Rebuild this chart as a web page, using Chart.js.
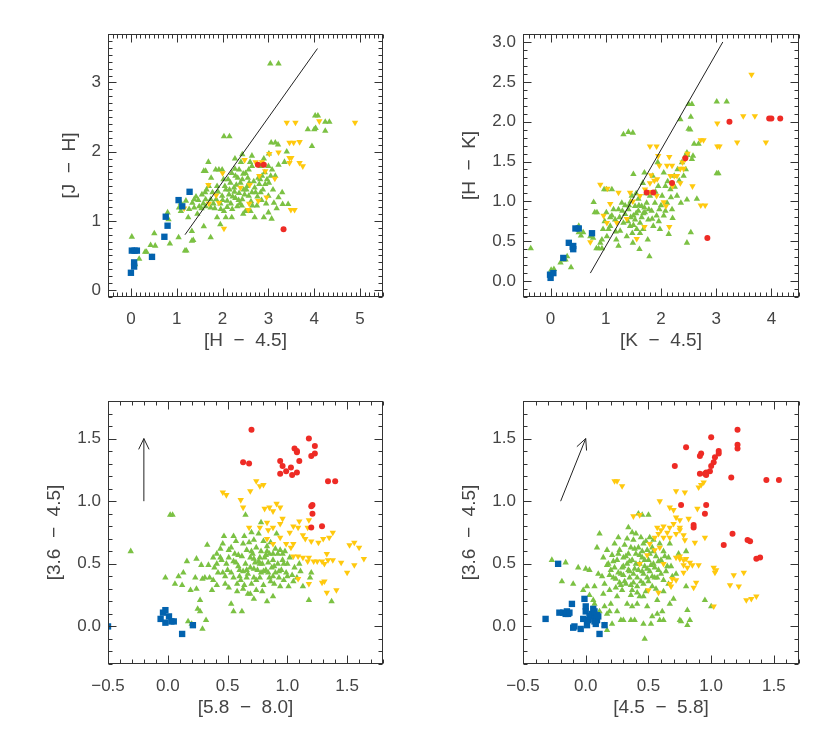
<!DOCTYPE html>
<html>
<head>
<meta charset="utf-8">
<script src="https://cdn.jsdelivr.net/npm/chart.js@4.4.1/dist/chart.umd.min.js"></script>
<style>
  html, body { margin: 0; padding: 0; background: #fff; }
  #wrap { position: relative; width: 830px; height: 734px; }
  canvas { position: absolute; }
</style>
</head>
<body>
<div id="wrap">
  <canvas id="jh" width="415" height="367" style="left:0;top:0"></canvas>
  <canvas id="hk" width="415" height="367" style="left:415px;top:0"></canvas>
  <canvas id="c58" width="415" height="367" style="left:0;top:367px"></canvas>
  <canvas id="c45" width="415" height="367" style="left:415px;top:367px"></canvas>
</div>
<script>
const GREEN = "#7bc143"
const YELLOW = "#ffc90e"
const RED = "#ee2b25"
const BLUE = "#0262ae"
const INK = "#333"
const FONT = "'Liberation Sans', Arial, sans-serif"

// ---- tick labels ----
const jhXTicks = [0, 1, 2, 3, 4, 5]
const jhXLabels = ["0", "1", "2", "3", "4", "5"]
const jhYTicks = [0, 1, 2, 3]
const jhYLabels = ["0", "1", "2", "3"]
const hkXTicks = [0, 1, 2, 3, 4]
const hkXLabels = ["0", "1", "2", "3", "4"]
const hkYTicks = [0, 0.5, 1, 1.5, 2, 2.5, 3]
const hkYLabels = ["0.0", "0.5", "1.0", "1.5", "2.0", "2.5", "3.0"]
const irXTicks = [-0.5, 0, 0.5, 1, 1.5]
const irXLabels = ["\u22120.5", "0.0", "0.5", "1.0", "1.5"]
const irYTicks = [0, 0.5, 1, 1.5]
const irYLabels = ["0.0", "0.5", "1.0", "1.5"]

// ---- [H-4.5] vs [J-H] ----
const jhBlue = [[0.0,0.25],[0.02,0.57],[0.08,0.57],[0.13,0.57],[0.07,0.40],[0.07,0.34],[0.46,0.48],[0.73,0.77],[0.76,1.06],[0.80,0.93],[1.04,1.30],[1.12,1.21],[1.28,1.42]]
const jhRed = [[2.77,1.81],[2.90,1.81],[3.33,0.88]]
const jhYellow = [[2.0,1.69],[1.69,1.52],[1.70,1.25],[1.92,1.26],[2.03,0.89],[2.48,1.88],[2.59,1.52],[2.56,1.16],[2.58,1.25],[2.39,1.48],[2.72,1.85],[2.80,1.65],[2.86,1.85],[2.93,1.72],[3.02,1.97],[2.78,1.29],[2.96,1.34],[3.14,1.61],[3.22,1.99],[3.40,2.42],[3.59,2.42],[3.46,2.13],[3.55,2.13],[3.68,2.14],[3.46,1.91],[3.50,1.91],[3.46,1.84],[3.68,1.84],[3.75,1.79],[3.49,1.16],[3.57,1.16],[4.11,2.44],[4.89,2.42],[1.16,1.18],[1.86,1.37]]
const jhGreen = [[3.04,3.27],[3.22,3.27],[2.03,2.22],[2.15,2.22],[4.02,2.52],[4.08,2.52],[4.24,2.43],[4.33,2.43],[3.86,2.32],[4.0,2.32],[4.03,2.34],[4.24,2.30],[3.95,2.08],
  [3.06,2.13],[3.15,2.13],[3.21,2.10],[3.01,1.97],[2.64,1.94],[2.43,1.96],[2.27,1.90],[1.69,1.85],[1.85,1.74],[1.59,1.72],[1.63,1.72],[1.92,1.74],[1.99,1.74],
  [2.20,1.69],[2.28,1.65],[2.36,1.74],[2.43,1.60],[2.50,1.69],[2.57,1.74],[2.64,1.79],[2.83,1.79],[3.0,1.79],[3.08,1.74],[3.22,1.81],[3.15,1.65],
  [1.05,1.19],[1.20,1.29],[1.27,1.17],[1.34,1.26],[1.38,1.19],[1.47,1.30],[1.54,1.18],[1.62,1.41],[1.63,1.31],[1.74,1.19],[1.78,1.41],[1.86,1.31],[1.88,1.50],[1.96,1.17],[1.99,1.36],[2.03,1.14],[2.07,1.45],[2.10,1.29],[2.14,1.38],[2.17,1.55],[2.21,1.17],[2.25,1.48],[2.28,1.33],[2.32,1.21],[2.36,1.40],[2.39,1.55],[2.43,1.31],[2.46,1.45],[2.50,1.14],[2.54,1.50],[2.57,1.36],[2.61,1.14],[2.64,1.41],[2.68,1.57],[2.72,1.41],[2.80,1.53],[2.83,1.41],[2.86,1.65],[2.93,1.53],[2.97,1.60],[3.01,1.55],[3.0,1.36],[3.0,1.12],[2.90,1.05],[3.07,1.03],[3.30,1.41],[3.31,1.24],[3.43,1.24],
  [2.07,1.05],[1.88,1.05],[2.20,1.05],[1.59,0.92],[1.74,0.76],[1.33,0.85],[1.33,0.71],[1.36,0.72],[1.18,0.57],[1.21,0.57],[1.04,0.76],[0.85,0.67],[0.82,1.02],[0.80,1.12],[0.53,0.64],[0.43,0.65],[0.51,0.82],[0.31,0.55],[0.34,0.55],[0.18,0.45],[0.09,0.37],[0.02,0.77],[0.46,0.48],[1.09,1.26],[1.09,1.14],[1.38,1.31],[1.49,1.21],[1.63,1.21],[1.74,1.31],[3.12,1.26],[3.22,1.34],
  [2.12,1.60],[2.33,1.62],[2.55,1.62],[2.38,1.25],[2.18,1.25],[1.95,1.25],[1.83,1.18],[2.62,1.28],[2.75,1.22],[2.85,1.30],[2.78,1.62],[2.92,1.70],[2.48,1.38],[2.26,1.42],[2.05,1.50],[1.55,1.38],[1.70,1.50],[1.42,1.35],
  [1.65,1.45],[1.80,1.25],[1.90,1.42],[2.00,1.30],[2.02,1.60],[2.10,1.20],[2.15,1.45],[2.22,1.35],[2.30,1.52],[2.35,1.30],[2.42,1.22],[2.45,1.68],[2.52,1.45],[2.58,1.55],[2.65,1.22],[2.70,1.48],[2.76,1.35],[2.82,1.60],[2.88,1.45],[2.95,1.25],[3.05,1.65],[3.10,1.45],[1.58,1.25],[1.75,1.62],[2.27,1.75],[2.40,1.85],[2.60,1.85],[2.90,1.90],[3.35,1.85],[3.40,2.00],[1.45,1.10],[1.25,1.05],[2.45,1.10],[2.70,1.05],[3.18,1.18],[1.95,0.95]]
const jhLine = [[1.18, 0.80], [4.07, 3.49]]

// ---- [K-4.5] vs [H-K] ----
const hkBlue = [[-0.01,0.08],[0.0,0.04],[0.05,0.10],[0.23,0.29],[0.33,0.48],[0.41,0.44],[0.41,0.40],[0.40,0.43],[0.45,0.66],[0.51,0.66],[0.75,0.60]]
const hkRed = [[1.74,1.11],[1.86,1.11],[2.20,1.23],[2.44,1.54],[2.84,0.54],[3.24,2.0],[3.96,2.04],[4.0,2.04],[4.16,2.04]]
const hkYellow = [[3.64,2.59],[3.49,2.07],[3.70,2.07],[3.02,1.98],[3.38,1.74],[3.90,1.74],[3.02,1.69],[3.06,1.69],[2.72,1.77],[2.77,1.77],[1.80,1.69],[1.92,1.69],[1.95,1.57],[2.15,1.56],[2.48,1.60],[2.44,1.53],[2.39,1.49],[2.35,1.41],[2.41,1.41],[1.97,1.45],[2.11,1.45],[2.20,1.45],[2.17,1.32],[2.24,1.32],[2.29,1.32],[1.82,1.33],[1.88,1.26],[1.80,1.23],[1.93,1.28],[2.35,1.23],[2.57,1.19],[2.21,1.19],[2.05,0.99],[2.09,0.94],[2.72,0.95],[2.80,0.95],[2.15,0.68],[1.70,0.68],[1.56,0.53],[0.90,1.21],[1.03,1.16],[1.08,0.97],[1.23,1.11],[1.44,1.11],[1.49,1.0],[1.62,1.07],[1.71,1.15],[1.02,0.73],[1.20,0.73],[0.96,0.82],[0.72,0.49],[1.38,0.78],[1.92,1.07],[1.80,1.12]]
const hkGreen = [[-0.36,0.41],[0.06,0.15],[0.01,0.14],[0.18,0.23],[0.24,0.27],[0.27,0.27],[0.30,0.31],[0.37,0.17],[0.51,0.69],[0.51,0.61],[0.55,0.57],[0.59,0.61],[0.72,0.56],[0.77,0.54],[0.78,0.99],[0.80,0.86],[0.84,0.86],[0.83,0.41],[0.87,0.41],[0.90,0.48],[0.93,0.52],[0.93,0.41],[0.95,0.65],[0.97,1.15],[1.01,1.15],[1.11,1.15],[1.01,0.86],[1.02,0.56],[1.05,0.65],[1.08,0.69],[1.11,0.82],[1.14,0.90],[1.17,0.77],[1.19,0.52],[1.23,0.44],[1.23,0.90],[1.26,0.63],[1.29,0.98],[1.32,0.73],[1.32,1.84],[1.41,1.87],[1.49,1.86],[1.35,0.84],[1.38,0.56],[1.41,0.90],[1.44,0.69],[1.47,1.07],[1.49,0.48],[1.50,1.34],[1.50,0.82],[1.53,0.94],[1.53,0.77],[1.56,0.65],[1.59,1.03],[1.59,0.88],[1.61,0.40],[1.62,0.73],[1.65,0.94],[1.67,1.23],[1.68,0.65],[1.70,1.36],[1.71,0.86],[1.74,0.98],[1.76,0.52],[1.77,0.77],[1.79,0.31],[1.80,1.07],[1.83,0.88],[1.85,1.32],[1.86,0.69],[1.89,0.98],[1.92,0.82],[1.94,1.49],[1.95,1.19],[1.97,0.90],[1.98,0.65],[2.02,1.07],[2.05,1.36],[2.05,0.82],[2.08,1.19],[2.11,0.98],[2.14,0.59],[2.17,1.15],[2.20,0.90],[2.21,0.79],[2.24,1.32],[2.29,1.07],[2.33,1.26],[2.35,2.03],[2.38,1.49],[2.41,1.32],[2.44,1.57],[2.47,1.02],[2.48,1.58],[2.50,2.22],[2.53,1.90],[2.56,2.22],[2.54,2.06],[2.56,1.53],[2.58,1.57],[2.47,1.61],[2.50,1.91],[2.60,1.72],[2.65,1.03],[2.68,1.72],[2.47,0.48],[2.54,0.61],[3.01,2.25],[3.19,2.25],[3.01,1.35],[3.04,1.35],
  [1.45,0.80],[1.55,0.85],[1.60,0.95],[1.40,0.75],[1.50,0.70],[1.65,0.80],[1.35,0.95],[1.25,0.80],[1.70,0.92],[1.45,1.00],
  [1.30,0.88],[1.42,0.95],[1.48,0.60],[1.55,1.10],[1.62,0.60],[1.68,0.85],[1.73,1.10],[1.78,0.90],[1.84,0.78],[1.90,1.12],[1.96,0.75],[2.00,0.95],[2.08,0.88],[2.12,1.25],[2.18,1.05],[2.25,1.18],[2.30,1.40],[2.36,0.98],[2.45,1.40],[1.18,0.62],[1.08,0.80],[0.98,0.75]]
const hkLine = [[0.72, 0.10], [3.12, 3.0]]

// ---- [5.8-8.0] vs [3.6-4.5] ----
const c58Blue = [[-0.5,0.0],[-0.06,0.06],[-0.04,0.11],[-0.02,0.13],[-0.02,0.03],[0.01,0.08],[0.03,0.04],[0.05,0.04],[0.12,-0.06],[0.21,0.01]]
const c58Red = [[0.70,1.57],[0.63,1.31],[0.68,1.30],[1.18,1.50],[1.23,1.44],[1.06,1.42],[1.08,1.40],[1.08,1.39],[1.20,1.36],[1.23,1.38],[0.94,1.32],[0.96,1.28],[1.03,1.27],[1.10,1.32],[0.94,1.22],[0.99,1.24],[1.04,1.21],[1.08,1.23],[1.34,1.16],[1.40,1.16],[1.21,0.97],[1.20,0.96],[1.21,0.90],[1.20,0.79],[1.29,0.80]]
const c58Yellow = [[0.74,1.16],[0.77,1.12],[0.80,1.13],[0.69,1.08],[0.46,1.07],[0.49,1.05],[0.61,1.01],[0.63,0.95],[0.81,0.94],[0.85,0.95],[0.91,0.98],[0.94,0.95],[0.88,0.92],[0.96,0.86],[0.68,0.79],[0.77,0.79],[0.83,0.83],[0.84,0.77],[0.88,0.79],[0.94,0.82],[1.05,0.80],[1.09,0.79],[1.10,0.84],[1.18,0.85],[1.17,0.79],[1.13,0.73],[1.15,0.70],[1.20,0.68],[1.26,0.67],[1.30,0.70],[1.35,0.71],[1.38,0.75],[1.52,0.65],[1.56,0.67],[1.60,0.63],[1.64,0.54],[1.50,0.43],[1.56,0.49],[1.45,0.51],[1.38,0.53],[1.34,0.53],[1.31,0.50],[1.29,0.52],[1.25,0.52],[1.22,0.52],[1.17,0.52],[1.13,0.55],[1.09,0.56],[1.05,0.56],[1.03,0.63],[0.99,0.66],[1.05,0.66],[1.18,0.55],[1.33,0.58],[1.29,0.35],[1.31,0.36],[1.33,0.27],[1.41,0.29],[1.18,0.34],[1.09,0.38],[0.88,0.66],[0.94,0.71],[1.02,0.75],[0.83,0.70]]
const c58Green = [[-0.31,0.60],[0.02,0.89],[0.04,0.89],[-0.02,0.39],[0.06,0.34],[0.09,0.40],[0.13,0.43],[0.16,0.52],[0.12,0.33],[0.17,0.04],[0.20,0.02],[0.24,0.54],[0.24,0.30],[0.25,0.14],[0.27,0.12],[0.27,0.21],[0.29,-0.02],[0.32,0.05],[0.28,0.49],[0.31,0.39],[0.33,0.65],[0.35,0.39],[0.38,0.37],[0.38,0.55],[0.39,0.47],[0.41,0.58],[0.42,0.43],[0.44,0.62],[0.45,0.53],[0.46,0.66],[0.47,0.72],[0.48,0.34],[0.49,0.50],[0.51,0.61],[0.51,0.55],[0.53,0.18],[0.53,0.63],[0.55,0.72],[0.55,0.39],[0.55,0.12],[0.57,0.51],[0.58,0.34],[0.59,0.57],[0.60,0.45],[0.62,0.12],[0.63,0.66],[0.63,0.30],[0.65,0.50],[0.65,0.89],[0.66,0.61],[0.66,0.39],[0.67,0.26],[0.68,0.67],[0.69,0.55],[0.69,0.47],[0.70,0.34],[0.71,0.58],[0.72,0.69],[0.72,0.39],[0.73,0.51],[0.74,0.63],[0.74,0.29],[0.75,0.45],[0.76,0.74],[0.77,0.55],[0.77,0.39],[0.78,0.83],[0.78,0.60],[0.79,0.50],[0.80,0.68],[0.80,0.33],[0.81,0.55],[0.82,0.45],[0.83,0.20],[0.83,0.64],[0.84,0.51],[0.85,0.39],[0.85,0.58],[0.86,0.67],[0.87,0.47],[0.88,0.24],[0.88,0.53],[0.89,0.34],[0.90,0.62],[0.90,0.43],[0.91,0.74],[0.92,0.50],[0.92,0.58],[0.93,0.39],[0.94,0.61],[0.95,0.45],[0.96,0.53],[0.97,0.37],[0.98,0.60],[0.99,0.43],[1.0,0.50],[1.01,0.32],[1.02,0.55],[1.04,0.41],[1.06,0.47],[1.08,0.39],[1.11,0.44],[1.13,0.32],[1.19,0.39],[1.20,0.43],[1.18,0.21],[1.37,0.20],[0.23,0.39],[0.19,0.29],[0.51,0.31],[0.37,0.29],[0.41,0.33],[0.58,0.28],[0.69,0.26],[0.72,0.22],[0.53,0.43],[0.59,0.48],[0.66,0.45],[0.72,0.46],[0.78,0.43],[0.84,0.43],[0.88,0.40],[0.94,0.32],[0.97,0.50],[0.88,0.58],[0.83,0.60],[0.77,0.50],[0.72,0.54],[0.61,0.37],[0.63,0.44],[0.56,0.58],[0.46,0.43],[0.41,0.50],[0.34,0.49],[0.29,0.38],
  [0.50,0.45],[0.55,0.52],[0.60,0.40],[0.62,0.56],[0.67,0.42],[0.70,0.60],[0.74,0.37],[0.76,0.52],[0.80,0.44],[0.82,0.57],[0.86,0.36],[0.89,0.48],[0.93,0.44],[0.96,0.58],[1.00,0.40],[0.57,0.68],[0.64,0.72],[0.70,0.75],[0.44,0.55],[0.48,0.40],[1.05,0.36],[1.10,0.50],[0.79,0.28],[0.64,0.33]]
const c58Arrow = [[-0.2, 1.0], [-0.2, 1.5]]

// ---- [4.5-5.8] vs [3.6-4.5] ----
const c45Blue = [[-0.32,0.06],[-0.22,0.50],[-0.21,0.11],[-0.18,0.11],[-0.16,0.10],[-0.14,0.10],[-0.15,0.12],[-0.13,0.11],[-0.11,0.18],[-0.10,-0.01],[-0.09,0.0],[-0.04,-0.02],[-0.02,0.06],[-0.01,0.22],[0.0,0.16],[0.0,0.12],[0.01,0.01],[0.02,0.05],[0.03,0.08],[0.05,0.10],[0.06,0.14],[0.07,0.06],[0.07,0.04],[0.07,0.12],[0.09,0.05],[0.10,0.08],[0.09,0.09],[0.11,-0.06],[0.15,0.01],[0.08,0.02]]
const c45Red = [[1.21,1.57],[1.0,1.51],[0.80,1.43],[1.21,1.45],[1.21,1.42],[0.92,1.38],[0.91,1.36],[1.06,1.40],[1.06,1.38],[1.03,1.35],[1.02,1.31],[1.0,1.28],[0.99,1.24],[0.96,1.23],[0.95,1.22],[0.91,1.22],[0.96,1.21],[0.71,1.28],[1.16,1.19],[1.44,1.17],[1.54,1.17],[0.96,0.97],[0.95,0.90],[0.86,0.79],[0.86,0.81],[1.17,0.74],[1.10,0.65],[1.29,0.69],[1.31,0.68],[1.36,0.54],[1.39,0.55],[0.76,0.97]]
const c45Yellow = [[0.23,1.16],[0.25,1.16],[0.29,1.12],[0.59,1.0],[0.38,0.88],[0.43,0.89],[0.67,0.95],[0.70,0.93],[0.72,1.08],[0.79,1.07],[0.90,1.11],[0.92,1.13],[0.94,1.15],[0.89,0.94],[0.82,0.86],[0.75,0.85],[0.72,0.87],[0.70,0.82],[0.75,0.79],[0.67,0.79],[0.62,0.80],[0.57,0.79],[0.60,0.77],[0.65,0.75],[0.58,0.74],[0.55,0.71],[0.62,0.71],[0.67,0.71],[0.72,0.74],[0.75,0.77],[0.78,0.73],[0.79,0.69],[0.87,0.67],[0.95,0.71],[0.51,0.66],[0.59,0.63],[0.55,0.61],[0.49,0.57],[0.43,0.50],[0.50,0.29],[0.58,0.27],[0.67,0.34],[0.62,0.50],[0.72,0.55],[0.75,0.54],[0.78,0.53],[0.80,0.54],[0.83,0.51],[0.78,0.49],[0.75,0.56],[0.90,0.49],[1.02,0.47],[1.03,0.43],[1.04,0.45],[1.18,0.41],[1.15,0.33],[1.22,0.32],[1.26,0.43],[0.88,0.35],[0.86,0.31],[1.28,0.21],[1.32,0.22],[1.36,0.24],[1.02,0.16],[0.69,0.38],[0.68,0.32],[0.72,0.37],[0.81,0.47],[0.85,0.49],[0.78,0.43]]
const c45Green = [[-0.27,0.53],[-0.16,0.51],[-0.06,0.47],[0.0,0.46],[0.03,0.45],[-0.19,0.36],[-0.10,0.34],[-0.02,0.29],[0.01,0.32],[0.03,0.25],[0.06,0.21],[0.07,0.18],[0.10,0.42],[0.11,0.74],[0.13,0.40],[0.14,0.26],[0.15,0.16],[0.15,0.34],[0.17,0.10],[0.17,0.61],[0.18,0.50],[0.19,0.41],[0.19,0.29],[0.20,0.18],[0.21,0.57],[0.21,0.02],[0.22,0.39],[0.23,0.47],[0.23,0.66],[0.24,0.31],[0.25,0.24],[0.25,0.53],[0.26,0.71],[0.26,0.43],[0.27,0.35],[0.27,0.61],[0.28,0.05],[0.29,0.47],[0.29,0.29],[0.30,0.55],[0.30,0.41],[0.31,0.65],[0.32,0.34],[0.33,0.50],[0.33,0.18],[0.34,0.79],[0.34,0.58],[0.35,0.39],[0.35,0.44],[0.36,0.63],[0.36,0.05],[0.37,0.29],[0.37,0.75],[0.37,0.53],[0.38,0.35],[0.38,0.69],[0.39,0.46],[0.39,0.05],[0.40,0.58],[0.41,0.32],[0.41,0.39],[0.42,0.63],[0.42,0.90],[0.43,0.50],[0.43,0.24],[0.44,0.71],[0.45,0.44],[0.45,0.89],[0.45,0.55],[0.46,0.34],[0.46,0.66],[0.47,0.48],[0.47,-0.10],[0.48,0.28],[0.49,0.61],[0.49,0.39],[0.50,0.89],[0.50,0.53],[0.51,0.71],[0.51,0.44],[0.52,0.02],[0.53,0.63],[0.53,0.32],[0.54,0.50],[0.54,0.69],[0.55,0.39],[0.56,0.56],[0.57,0.10],[0.57,0.21],[0.58,0.45],[0.59,0.66],[0.59,0.05],[0.60,0.53],[0.61,0.12],[0.62,0.37],[0.63,0.56],[0.65,0.48],[0.66,0.34],[0.67,0.66],[0.67,0.18],[0.69,0.40],[0.70,0.22],[0.75,0.05],[0.76,0.04],[0.81,0.13],[0.81,0.01],[0.83,0.05],[0.95,0.21],[1.0,0.16],[0.80,0.32],[0.57,0.39],[0.09,0.63],[0.14,0.55],[0.17,0.49],[0.07,0.32],[0.11,0.12],[0.19,0.12],[0.25,0.12],[0.30,0.05],[0.37,0.16],[0.41,0.18],[0.46,0.02],[0.49,0.16],[0.53,0.08],[0.62,0.05],[0.15,0.01],[0.17,-0.03],
  [0.20,0.45],[0.22,0.52],[0.24,0.38],[0.26,0.58],[0.28,0.42],[0.30,0.48],[0.31,0.36],[0.32,0.56],[0.34,0.45],[0.35,0.52],[0.36,0.33],[0.38,0.42],[0.39,0.62],[0.40,0.50],[0.41,0.27],[0.42,0.45],[0.43,0.57],[0.44,0.36],[0.45,0.60],[0.46,0.42],[0.47,0.53],[0.48,0.68],[0.49,0.46],[0.50,0.36],[0.51,0.58],[0.52,0.49],[0.53,0.40],[0.54,0.60],[0.55,0.47],[0.56,0.30],[0.58,0.52],[0.60,0.42],[0.62,0.60],[0.64,0.44],[0.66,0.55],[0.68,0.48],[0.33,0.70],[0.40,0.74],[0.28,0.33],[0.36,0.25],[0.46,0.24],[0.62,0.28],[0.72,0.42],[0.74,0.58],[0.80,0.60]]
const c45Arrow = [[-0.2, 1.0], [0.0, 1.5]]

const toXY = arr => arr.map(([x, y]) => ({ x, y }))

function markers(label, arr, color, style, radius, rotation) {
  return {
    label, data: toXY(arr), showLine: false,
    pointStyle: style, pointRadius: radius, pointRotation: rotation || 0,
    pointBackgroundColor: color, pointBorderWidth: 0, clip: 0
  }
}

function guide(arr, arrowHead) {
  return {
    data: toXY(arr), showLine: true, borderColor: "#222", borderWidth: 1,
    pointRadius: 0, fill: false, arrowHead, clip: 0
  }
}

// inward major/minor ticks on all four sides, plus the box
const framePlugin = {
  id: "frame",
  afterDatasetsDraw(chart, args, opts) {
    const { ctx, chartArea: a, scales: { x, y } } = chart
    const L = Math.round(a.left) + 0.5, R = Math.round(a.right) - 0.5
    const T = Math.round(a.top) + 0.5, B = Math.round(a.bottom) - 0.5
    const steps = (scale, minor, major) => {
      const out = []
      const k0 = Math.ceil(scale.min / minor - 1e-6), k1 = Math.floor(scale.max / minor + 1e-6)
      for (let k = k0; k <= k1; k++) {
        const v = k * minor
        const r = v / major
        out.push([Math.round(scale.getPixelForValue(v)) + 0.5, Math.abs(r - Math.round(r)) < 1e-6])
      }
      return out
    }
    ctx.save()
    ctx.strokeStyle = INK
    ctx.lineWidth = 1
    ctx.beginPath()
    for (const [px, big] of steps(x, opts.xMinor, opts.xMajor)) {
      const len = big ? 8 : 4
      ctx.moveTo(px, B); ctx.lineTo(px, B - len)
      ctx.moveTo(px, T); ctx.lineTo(px, T + len)
    }
    for (const [py, big] of steps(y, opts.yMinor, opts.yMajor)) {
      const len = big ? 8 : 4
      ctx.moveTo(L, py); ctx.lineTo(L + len, py)
      ctx.moveTo(R, py); ctx.lineTo(R - len, py)
    }
    ctx.stroke()
    ctx.strokeRect(L, T, R - L, B - T)
    // arrow heads on guide lines that ask for them
    chart.data.datasets.forEach((ds, i) => {
      if (!ds.arrowHead) return
      const pts = chart.getDatasetMeta(i).data
      const p0 = pts[pts.length - 2], p1 = pts[pts.length - 1]
      const ang = Math.atan2(p1.y - p0.y, p1.x - p0.x)
      ctx.strokeStyle = "#222"
      ctx.beginPath()
      for (const d of [-0.45, 0.45]) {
        ctx.moveTo(p1.x, p1.y)
        ctx.lineTo(p1.x - 12 * Math.cos(ang + d), p1.y - 12 * Math.sin(ang + d))
      }
      ctx.stroke()
    })
    ctx.restore()
  }
}

function axis(min, max, ticks, labels, title, opts) {
  const horizontal = opts.horizontal
  return {
    type: "linear", min, max,
    afterBuildTicks: s => { s.ticks = ticks.map(v => ({ value: v })) },
    afterFit: s => { if (horizontal) s.height = 70; else s.width = 108 },
    grid: { display: false, drawTicks: false },
    border: { display: false },
    ticks: {
      autoSkip: false, maxRotation: 0, padding: horizontal ? 12 : 7,
      color: "#444", font: { family: FONT, size: 17 },
      callback: v => labels[ticks.indexOf(v)]
    },
    title: {
      display: true, text: title, color: "#444",
      font: { family: FONT, size: 19 },
      padding: horizontal ? { top: 0, bottom: 15 } : { top: opts.titlePad, bottom: 0 }
    }
  }
}

function panel(id, cfg) {
  new Chart(document.getElementById(id), {
    type: "scatter",
    data: { datasets: cfg.datasets },
    options: {
      responsive: false, animation: false, devicePixelRatio: 1,
      layout: { padding: { left: 0, right: cfg.right, top: 34, bottom: 0 } },
      plugins: {
        legend: { display: false }, tooltip: { enabled: false },
        frame: cfg.frame
      },
      scales: {
        x: axis(cfg.x[0], cfg.x[1], cfg.xTicks, cfg.xLabels, cfg.xTitle, { horizontal: true }),
        y: axis(cfg.y[0], cfg.y[1], cfg.yTicks, cfg.yLabels, cfg.yTitle, { horizontal: false, titlePad: cfg.yTitlePad })
      }
    },
    plugins: [framePlugin]
  })
}

function groups(blue, red, yellow, green) {
  return [
    markers("blue", blue, BLUE, "rect", 4.5),
    markers("red", red, RED, "circle", 3),
    markers("yellow", yellow, YELLOW, "triangle", 3.7, 180),
    markers("green", green, GREEN, "triangle", 3.7)
  ]
}

panel("jh", {
  x: [-0.5, 5.5], y: [-0.1, 3.7], right: 32,
  xTicks: jhXTicks, xLabels: jhXLabels, yTicks: jhYTicks, yLabels: jhYLabels,
  xTitle: "[H  \u2212  4.5]", yTitle: "[J  \u2212  H]", yTitlePad: 58,
  frame: { xMinor: 0.1, xMajor: 1, yMinor: 0.1, yMajor: 1 },
  datasets: [guide(jhLine, false), ...groups(jhBlue, jhRed, jhYellow, jhGreen)]
})

panel("hk", {
  x: [-0.5, 4.5], y: [-0.2, 3.1], right: 31,
  xTicks: hkXTicks, xLabels: hkXLabels, yTicks: hkYTicks, yLabels: hkYLabels,
  xTitle: "[K  \u2212  4.5]", yTitle: "[H  \u2212  K]", yTitlePad: 43,
  frame: { xMinor: 0.1, xMajor: 1, yMinor: 0.1, yMajor: 0.5 },
  datasets: [guide(hkLine, false), ...groups(hkBlue, hkRed, hkYellow, hkGreen)]
})

panel("c58", {
  x: [-0.5, 1.8], y: [-0.3, 1.8], right: 32,
  xTicks: irXTicks, xLabels: irXLabels, yTicks: irYTicks, yLabels: irYLabels,
  xTitle: "[5.8  \u2212  8.0]", yTitle: "[3.6  \u2212  4.5]", yTitlePad: 43,
  frame: { xMinor: 0.1, xMajor: 0.5, yMinor: 0.1, yMajor: 0.5 },
  datasets: [guide(c58Arrow, true), ...groups(c58Blue, c58Red, c58Yellow, c58Green)]
})

panel("c45", {
  x: [-0.5, 1.7], y: [-0.3, 1.8], right: 31,
  xTicks: irXTicks, xLabels: irXLabels, yTicks: irYTicks, yLabels: irYLabels,
  xTitle: "[4.5  \u2212  5.8]", yTitle: "[3.6  \u2212  4.5]", yTitlePad: 43,
  frame: { xMinor: 0.1, xMajor: 0.5, yMinor: 0.1, yMajor: 0.5 },
  datasets: [guide(c45Arrow, true), ...groups(c45Blue, c45Red, c45Yellow, c45Green)]
})
</script>
</body>
</html>
